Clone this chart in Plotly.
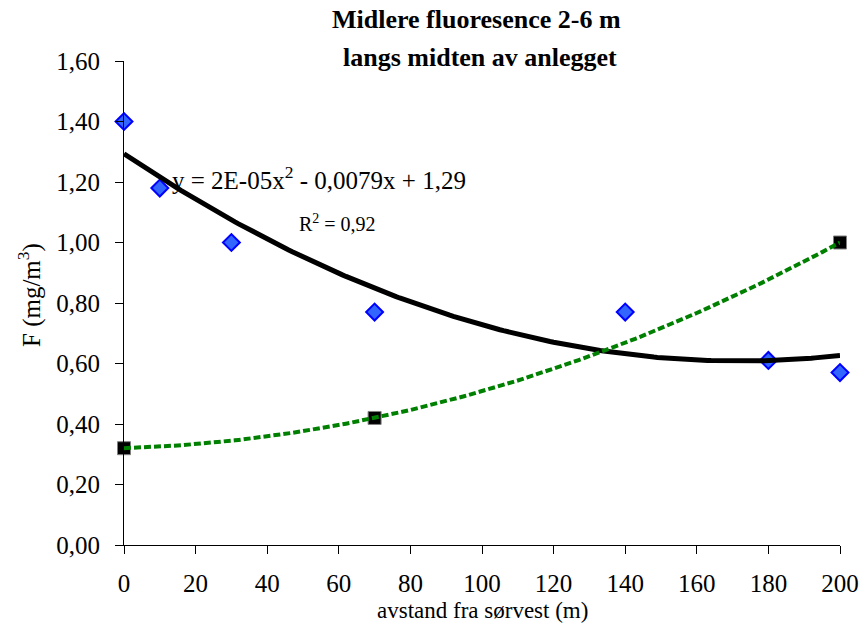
import numpy as np
import plotly.graph_objects as go

# Data
x_blue = [0, 10, 30, 70, 140, 180, 200]
y_blue = [1.40, 1.18, 1.00, 0.77, 0.77, 0.61, 0.57]
x_green = [0, 70, 200]
y_green = [0.32, 0.42, 1.00]
title_lines = ["Midlere fluoresence 2-6 m", "langs midten av anlegget"]
x_title = "avstand fra sørvest (m)"
y_title = "F (mg/m<sup>3</sup>)"
eq_text = "y = 2E-05x<sup>2</sup> - 0,0079x + 1,29"
r2_text = "R<sup>2</sup> = 0,92"

W, H = 863, 623
L, R, T, B = 124, 23, 61, 78
pw, ph = W - L - R, H - T - B

def px(xp):
    return (xp - L) / pw

def py(yp):
    return (H - B - yp) / ph

FONT = "Liberation Serif, Times New Roman, serif"

# trend lines (least-squares polynomial fits of the series, as in the original)
xs = np.linspace(0, 200, 201)
cb = np.polyfit(x_blue, y_blue, 2)
cg = np.polyfit(x_green, y_green, 2)

fig = go.Figure()
fig.add_trace(go.Scatter(x=x_blue, y=y_blue, mode="markers",
                         marker=dict(symbol="diamond", size=13, color="#3366FF",
                                     line=dict(color="#0000FF", width=2)),
                         cliponaxis=False, showlegend=False))
fig.add_trace(go.Scatter(x=x_green, y=y_green, mode="markers",
                         marker=dict(symbol="square", size=13, color="#000000",
                                     line=dict(color="#808080", width=1)),
                         cliponaxis=False, showlegend=False))
fig.add_trace(go.Scatter(x=xs, y=np.polyval(cb, xs), mode="lines",
                         line=dict(color="#000000", width=5),
                         cliponaxis=False, showlegend=False))
fig.add_trace(go.Scatter(x=xs, y=np.polyval(cg, xs), mode="lines",
                         line=dict(color="#008000", width=4, dash="7px,3px"),
                         cliponaxis=False, showlegend=False))

annotations = [
    dict(text="<b>" + title_lines[0] + "</b>", x=px(476), y=py(20), font=dict(size=26)),
    dict(text="<b>" + title_lines[1] + "</b>", x=px(480), y=py(58), font=dict(size=26)),
    dict(text=x_title, x=px(482), y=py(611), font=dict(size=23)),
    dict(text=y_title, x=px(29), y=py(295), textangle=-90, font=dict(size=25)),
    dict(text=eq_text, x=px(170), y=py(178), xanchor="left", font=dict(size=25)),
    dict(text=r2_text, x=px(297), y=py(223), xanchor="left", font=dict(size=20)),
]
for a in annotations:
    a.setdefault("xanchor", "center")
    a.update(xref="paper", yref="paper", yanchor="middle", showarrow=False)
    a["font"].update(family=FONT, color="#000000")

fig.update_layout(
    width=W, height=H,
    margin=dict(l=L, r=R, t=T, b=B, pad=0, autoexpand=False),
    paper_bgcolor="white", plot_bgcolor="white",
    separators=",.",
    font=dict(family=FONT, size=25, color="#000000"),
    annotations=annotations,
    xaxis=dict(range=[0, 200], tickmode="linear", tick0=0, dtick=20, automargin=False,
               showgrid=False, zeroline=False, showline=True, linecolor="#000000",
               linewidth=1, ticks="outside", ticklen=8, tickcolor="#000000",
               ticklabelstandoff=8, tickfont=dict(size=25)),
    yaxis=dict(range=[0, 1.6], tickmode="linear", tick0=0, dtick=0.2, tickformat=".2f",
               automargin=False,
               showgrid=False, zeroline=False, showline=True, linecolor="#000000",
               linewidth=1, ticks="outside", ticklen=8, tickcolor="#000000",
               ticklabelstandoff=10, tickfont=dict(size=25)),
)

fig.write_html("out.html")
